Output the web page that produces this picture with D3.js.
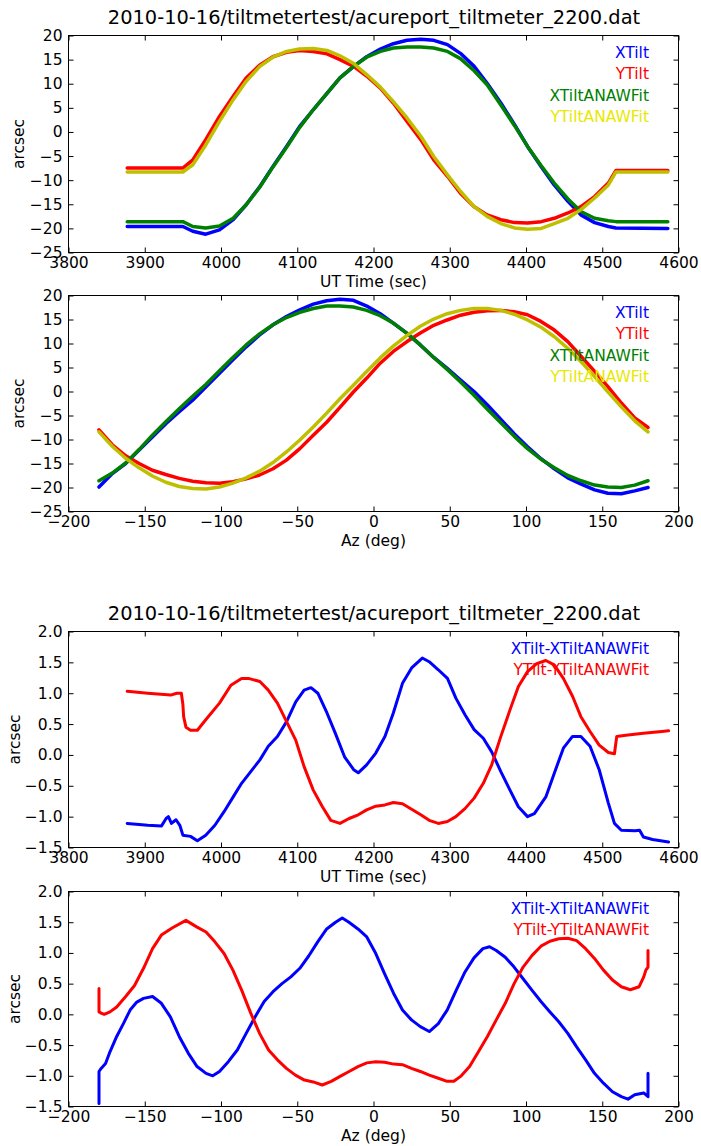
<!DOCTYPE html>
<html lang="en">
<head>
<meta charset="UTF-8">
<title>acureport_tiltmeter_2200</title>
<script src="https://d3js.org/d3.v7.min.js"></script>
<style>
  body { margin: 0; background: #fff; }
  svg text { font-family: 'DejaVu Sans', sans-serif; fill: #000; }
</style>
</head>
<body>
<svg id="chart" width="701" height="1146"></svg>
<script>
const fileTitle = "2010-10-16/tiltmetertest/acureport_tiltmeter_2200.dat";

// ---- panel 1: tilt vs UT time ----
const utTime = [3877, 3950, 3963, 3980, 3998, 4016, 4033, 4051, 4068, 4086, 4103, 4121, 4139, 4156, 4174, 4191, 4209, 4226,
  4244, 4262, 4279, 4297, 4314, 4332, 4349, 4367, 4385, 4402, 4420, 4437, 4455, 4472, 4490, 4508, 4518, 4586];
const xTiltT = [-19.6, -19.6, -20.6, -21.2, -20.3, -18.2, -15.1, -11.3, -7.2, -3.0, 1.1, 4.6, 8.0, 11.2, 13.6, 15.6, 17.2, 18.3,
  19.0, 19.2, 19.0, 18.1, 16.3, 13.6, 10.1, 6.0, 1.5, -3.0, -7.2, -11.0, -14.4, -17.2, -18.8, -19.6, -19.9, -20.0];
const yTiltT = [-7.5, -7.5, -5.8, -1.6, 3.2, 7.4, 11.2, 13.9, 15.6, 16.5, 16.9, 16.7, 16.2, 15.0, 13.6, 11.6, 9.1, 6.0,
  2.2, -1.6, -5.8, -9.2, -12.7, -15.5, -17.2, -18.2, -18.8, -18.9, -18.6, -17.9, -16.8, -15.5, -13.4, -10.6, -8.0, -8.0];
const xFitT = [-18.6, -18.6, -19.6, -19.9, -19.5, -17.9, -15.1, -11.4, -7.3, -3.2, 0.9, 4.6, 8.0, 11.2, 13.6, 15.5, 16.7, 17.4,
  17.6, 17.6, 17.4, 16.7, 15.2, 12.7, 9.8, 5.6, 1.3, -3.0, -7.0, -10.6, -13.9, -16.5, -17.9, -18.4, -18.6, -18.6];
const yFitT = [-8.3, -8.3, -6.8, -2.7, 2.2, 6.7, 10.5, 13.6, 15.5, 16.7, 17.2, 17.3, 16.9, 15.8, 14.2, 11.9, 9.3, 6.3,
  2.9, -0.9, -5.1, -8.9, -12.3, -15.5, -17.5, -19.0, -19.9, -20.2, -20.0, -19.0, -17.9, -16.1, -13.7, -11.0, -8.3, -8.3];

// ---- panel 2: tilt vs azimuth ----
const azDeg = [-180, -171.3, -162.5, -153.7, -145, -136.2, -127.4, -118.6, -109.8, -101, -92.2, -83.5, -74.7, -65.9,
  -57.1, -48.3, -39.5, -30.7, -22, -13.2, -4.4, 4.4, 13.2, 22, 30.7, 39.5, 48.3, 57.1, 65.9, 74.7, 83.5, 92.2,
  101, 109.8, 118.6, 127.4, 136.2, 145, 153.7, 162.5, 171.3, 180];
const xTiltA = [-19.9, -17.1, -15.0, -12.2, -9.5, -6.7, -4.2, -1.8, 1.0, 3.8, 6.6, 9.3, 11.8, 13.9, 15.6, 17.0, 18.2, 18.9,
  19.2, 19.0, 17.8, 16.2, 14.2, 12.1, 9.7, 7.1, 4.8, 2.4, 0.0, -2.8, -5.8, -8.8, -11.5, -14.0, -16.1, -18.0, -19.3,
  -20.5, -21.2, -21.3, -20.7, -20.0];
const yTiltA = [-8.0, -11.1, -13.4, -15.0, -16.4, -17.3, -18.1, -18.7, -19.0, -19.1, -18.8, -18.2, -17.4, -16.1, -14.3,
  -11.9, -9.1, -6.4, -3.3, -0.1, 2.8, 5.9, 8.4, 10.4, 12.2, 13.8, 14.9, 15.9, 16.5, 16.8, 16.9, 16.6, 16.0, 14.6, 12.8,
  10.4, 7.3, 4.2, 1.0, -2.4, -5.5, -7.5];
const xFitA = [-18.6, -17.0, -14.9, -12.1, -9.1, -6.3, -3.6, -1.0, 1.5, 4.3, 7.1, 9.7, 12.0, 13.9, 15.4, 16.5, 17.3, 17.8,
  17.8, 17.6, 16.9, 15.8, 14.2, 12.1, 9.7, 7.1, 4.6, 2.0, -0.8, -3.7, -6.5, -9.3, -11.9, -14.1, -15.9, -17.5, -18.6,
  -19.5, -19.9, -20.0, -19.5, -18.6];
const yFitA = [-8.4, -11.4, -13.9, -15.9, -17.6, -18.9, -19.8, -20.2, -20.3, -19.9, -19.1, -18.0, -16.6, -14.8, -12.6,
  -10.1, -7.4, -4.5, -1.5, 1.3, 4.2, 7.0, 9.5, 11.7, 13.6, 15.1, 16.2, 16.9, 17.3, 17.3, 16.9, 16.1, 14.9, 13.4, 11.4,
  9.0, 6.2, 3.1, -0.1, -3.2, -6.1, -8.4];

// ---- panel 3: residuals vs UT time ----
const resTimeX = [3877, 3904, 3922, 3928, 3931, 3935, 3941, 3946, 3950, 3960, 3969, 3980, 3992, 4004, 4016, 4027, 4039,
  4051, 4062, 4074, 4086, 4098, 4109, 4118, 4127, 4139, 4150, 4162, 4174, 4180, 4191, 4203, 4215, 4226, 4238, 4250,
  4264, 4273, 4285, 4297, 4308, 4320, 4332, 4344, 4355, 4367, 4379, 4390, 4402, 4411, 4426, 4437, 4449, 4461, 4472,
  4484, 4496, 4508, 4516, 4525, 4543, 4549, 4554, 4566, 4587];
const resXT = [-1.11, -1.14, -1.15, -1.03, -1.0, -1.11, -1.05, -1.14, -1.30, -1.32, -1.39, -1.30, -1.14, -0.92, -0.68,
  -0.46, -0.27, -0.08, 0.14, 0.30, 0.54, 0.86, 1.05, 1.09, 1.0, 0.68, 0.35, -0.03, -0.24, -0.29, -0.16, 0.03, 0.30,
  0.68, 1.16, 1.41, 1.57, 1.51, 1.38, 1.24, 0.92, 0.65, 0.41, 0.27, 0.05, -0.27, -0.57, -0.84, -1.0, -0.95, -0.68,
  -0.30, 0.11, 0.30, 0.30, 0.14, -0.24, -0.78, -1.11, -1.22, -1.23, -1.22, -1.33, -1.37, -1.41];
const resTimeY = [3877, 3904, 3934, 3942, 3948, 3950, 3951, 3954, 3960, 3969, 3980, 3998, 4013, 4027, 4036, 4051, 4062,
  4074, 4086, 4098, 4109, 4121, 4133, 4144, 4156, 4168, 4180, 4191, 4203, 4215, 4226, 4238, 4250, 4262, 4273, 4285,
  4297, 4308, 4320, 4332, 4344, 4355, 4367, 4379, 4390, 4402, 4414, 4426, 4437, 4449, 4461, 4472, 4484, 4496, 4508,
  4516, 4519, 4531, 4554, 4578, 4587];
const resYT = [1.03, 1.0, 0.97, 1.0, 1.0, 0.82, 0.62, 0.45, 0.40, 0.40, 0.57, 0.84, 1.13, 1.24, 1.24, 1.19, 1.05, 0.84,
  0.54, 0.24, -0.19, -0.57, -0.84, -1.06, -1.11, -1.03, -0.97, -0.89, -0.83, -0.81, -0.77, -0.79, -0.88, -0.97, -1.06,
  -1.11, -1.08, -1.0, -0.87, -0.70, -0.46, -0.16, 0.30, 0.73, 1.11, 1.35, 1.48, 1.53, 1.46, 1.24, 0.95, 0.62, 0.38,
  0.16, 0.04, 0.02, 0.30, 0.32, 0.35, 0.38, 0.39];

// ---- panel 4: residuals vs azimuth ----
const resAzX = [-180, -180, -178.6, -175.7, -172.8, -168.4, -164, -159.6, -155.2, -150.8, -144.9, -139.1, -133.2, -127.4,
  -121.5, -115.7, -109.8, -105.4, -101, -95.2, -89.3, -83.5, -77.6, -71.7, -65.9, -60, -54.2, -48.3, -42.5, -36.6,
  -30.7, -24.9, -20.5, -16.1, -10.2, -4.4, 1.5, 7.3, 13.2, 19, 24.9, 30.7, 36.6, 42.5, 48.3, 54.2, 60, 65.9, 71.7,
  76.1, 80.5, 86.4, 92.2, 98.1, 104, 109.8, 115.7, 121.5, 127.4, 133.2, 139.1, 144.9, 150.8, 156.7, 162.5, 166.9,
  171.3, 177.2, 180, 180];
const resXA = [-1.45, -0.93, -0.88, -0.80, -0.61, -0.36, -0.15, 0.07, 0.20, 0.26, 0.29, 0.18, -0.04, -0.36, -0.63,
  -0.85, -0.96, -1.0, -0.93, -0.77, -0.58, -0.31, -0.04, 0.21, 0.37, 0.50, 0.61, 0.75, 0.95, 1.18, 1.39, 1.50, 1.57,
  1.50, 1.39, 1.26, 0.99, 0.66, 0.34, 0.07, -0.09, -0.20, -0.28, -0.15, 0.07, 0.39, 0.69, 0.92, 1.07, 1.10, 1.04,
  0.93, 0.77, 0.58, 0.39, 0.21, 0.04, -0.12, -0.31, -0.53, -0.74, -0.96, -1.12, -1.26, -1.34, -1.38, -1.31, -1.28,
  -1.34, -0.96];
const resAzY = [-180, -180, -178.6, -176.6, -172.8, -168.4, -162.5, -156.7, -150.8, -144.9, -139.1, -131.8, -123,
  -115.7, -109.8, -104, -98, -92.2, -86.4, -80.5, -74.7, -68.8, -63, -57.1, -51.2, -45.3, -39.5, -33.6, -27.7, -21.9,
  -16, -10.2, -4.4, 1.5, 7.3, 13.2, 19, 24.9, 30.7, 36.6, 42.5, 48.3, 52.7, 57.1, 63, 68.8, 74.7, 80.5, 86.4, 92.2,
  98.1, 104, 109.8, 115.7, 121.5, 127.4, 133.2, 139.1, 144.9, 150.8, 156.7, 162.5, 168.4, 174.2, 177.2, 178.6, 180, 180];
const resYA = [0.42, 0.04, 0.02, 0.0, 0.04, 0.12, 0.29, 0.47, 0.75, 1.07, 1.29, 1.41, 1.53, 1.42, 1.34, 1.18, 0.99, 0.72,
  0.39, 0.02, -0.31, -0.58, -0.74, -0.88, -0.99, -1.07, -1.10, -1.15, -1.09, -1.01, -0.93, -0.85, -0.79, -0.77, -0.78,
  -0.81, -0.82, -0.88, -0.93, -0.99, -1.04, -1.09, -1.09, -1.01, -0.85, -0.61, -0.36, -0.09, 0.18, 0.50, 0.77, 0.96,
  1.11, 1.19, 1.23, 1.24, 1.20, 1.07, 0.91, 0.72, 0.56, 0.45, 0.40, 0.45, 0.61, 0.72, 0.77, 1.04];

// ticks
const timeTicks = [3800, 3900, 4000, 4100, 4200, 4300, 4400, 4500, 4600];
const azTicks = [-200, -150, -100, -50, 0, 50, 100, 150, 200];
const tiltTicks = [-25, -20, -15, -10, -5, 0, 5, 10, 15, 20];
const resTicks = [-1.5, -1.0, -0.5, 0.0, 0.5, 1.0, 1.5, 2.0];

const BLUE = "#0000ff", RED = "#ff0000", GREEN = "#008000", YELLOW = "#bfbf00";

const svg = d3.select("#chart");
const L = 68.5, R = 678.5;
const FS = 15.5;

function drawPanel(p) {
  const g = svg.append("g");
  const x = d3.scaleLinear().domain(d3.extent(p.xTicks)).range([L, R]);
  const y = d3.scaleLinear().domain(d3.extent(p.yTicks)).range([p.bottom, p.top]);

  if (p.title) {
    g.append("text").attr("x", (L + R) / 2 + 0.5).attr("y", p.top - 12)
      .attr("text-anchor", "middle").style("font-size", "19.4px").text(p.title);
  }

  const line = d3.line().x(d => x(d[0])).y(d => y(d[1]));
  p.series.forEach(s => {
    g.append("path").datum(d3.zip(s.x, s.y)).attr("d", line)
      .attr("fill", "none").attr("stroke", s.color).attr("stroke-width", p.lw)
      .attr("stroke-linejoin", "round").attr("stroke-linecap", "round");
  });

  // axes, ticks pointing inward on all four sides
  const bottom = g.append("g").attr("transform", `translate(0,${p.bottom})`)
    .call(d3.axisBottom(x).tickValues(p.xTicks).tickSize(-5).tickPadding(4.5).tickFormat(d3.format("d")));
  const left = g.append("g").attr("transform", `translate(${L},0)`)
    .call(d3.axisLeft(y).tickValues(p.yTicks).tickSize(-5).tickPadding(6).tickFormat(d3.format(p.yFmt)));
  const top = g.append("g").attr("transform", `translate(0,${p.top})`)
    .call(d3.axisTop(x).tickValues(p.xTicks).tickSize(-5).tickFormat(""));
  const right = g.append("g").attr("transform", `translate(${R},0)`)
    .call(d3.axisRight(y).tickValues(p.yTicks).tickSize(-5).tickFormat(""));
  [bottom, left, top, right].forEach(a => {
    a.select(".domain").remove();
    a.selectAll("line").attr("stroke", "#000");
    a.selectAll("text").style("font-size", FS + "px").attr("font-family", null).attr("fill", "#000");
  });

  g.append("rect").attr("x", L).attr("y", p.top).attr("width", R - L).attr("height", p.bottom - p.top)
    .attr("fill", "none").attr("stroke", "#000").attr("stroke-width", 1);

  g.append("text").attr("x", (L + R) / 2).attr("y", p.bottom + 34)
    .attr("text-anchor", "middle").style("font-size", FS + "px").text(p.xLabel);
  g.append("text").attr("transform", `translate(${p.yLabelX},${(p.top + p.bottom) / 2}) rotate(-90)`)
    .attr("text-anchor", "middle").attr("dy", "0.35em").style("font-size", FS + "px").text("arcsec");

  p.series.forEach((s, i) => {
    g.append("text").attr("x", 649).attr("y", p.top + 22 + i * 21.5)
      .attr("text-anchor", "end").style("font-size", FS + "px").style("fill", s.textColor || s.color).text(s.name);
  });
}

drawPanel({
  title: fileTitle, top: 35.5, bottom: 252.5, xTicks: timeTicks, yTicks: tiltTicks, yFmt: "d",
  xLabel: "UT Time (sec)", yLabelX: 19, lw: 3.5,
  series: [
    { name: "XTilt", x: utTime, y: xTiltT, color: BLUE },
    { name: "YTilt", x: utTime, y: yTiltT, color: RED },
    { name: "XTiltANAWFit", x: utTime, y: xFitT, color: GREEN },
    { name: "YTiltANAWFit", x: utTime, y: yFitT, color: YELLOW, textColor: "#e8e800" }
  ]
});

drawPanel({
  top: 295.5, bottom: 511.5, xTicks: azTicks, yTicks: tiltTicks, yFmt: "d",
  xLabel: "Az (deg)", yLabelX: 19, lw: 3.5,
  series: [
    { name: "XTilt", x: azDeg, y: xTiltA, color: BLUE },
    { name: "YTilt", x: azDeg, y: yTiltA, color: RED },
    { name: "XTiltANAWFit", x: azDeg, y: xFitA, color: GREEN },
    { name: "YTiltANAWFit", x: azDeg, y: yFitA, color: YELLOW, textColor: "#e8e800" }
  ]
});

drawPanel({
  title: fileTitle, top: 631.5, bottom: 847.5, xTicks: timeTicks, yTicks: resTicks, yFmt: ".1f",
  xLabel: "UT Time (sec)", yLabelX: 15, lw: 3,
  series: [
    { name: "XTilt-XTiltANAWFit", x: resTimeX, y: resXT, color: BLUE },
    { name: "YTilt-YTiltANAWFit", x: resTimeY, y: resYT, color: RED }
  ]
});

drawPanel({
  top: 891.5, bottom: 1106.5, xTicks: azTicks, yTicks: resTicks, yFmt: ".1f",
  xLabel: "Az (deg)", yLabelX: 15, lw: 3,
  series: [
    { name: "XTilt-XTiltANAWFit", x: resAzX, y: resXA, color: BLUE },
    { name: "YTilt-YTiltANAWFit", x: resAzY, y: resYA, color: RED }
  ]
});
</script>
</body>
</html>
